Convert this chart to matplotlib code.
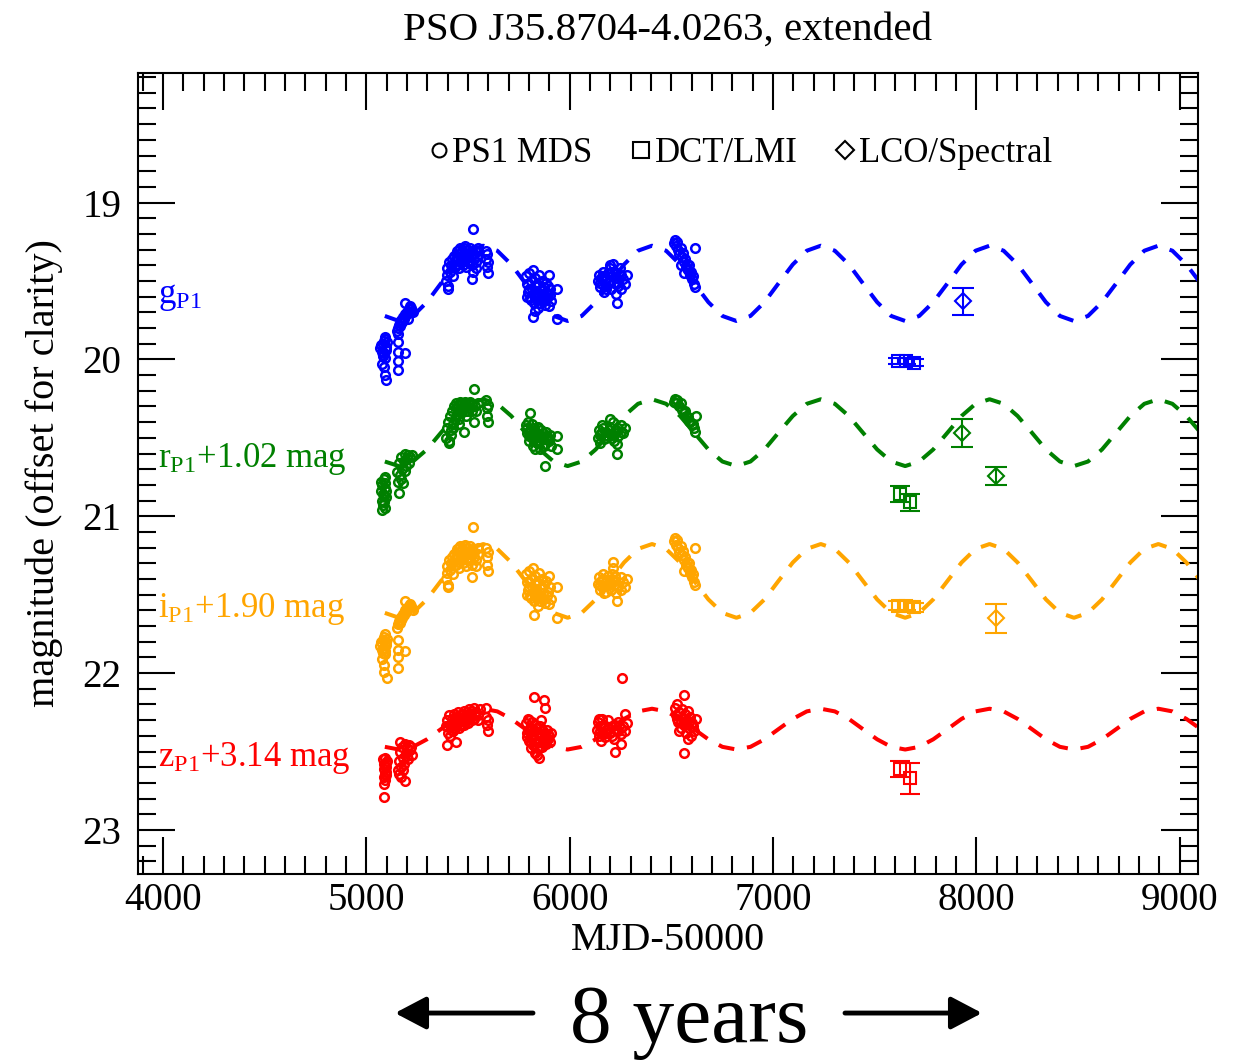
import matplotlib
matplotlib.use('Agg')
import matplotlib.pyplot as plt
from matplotlib.lines import Line2D
from matplotlib.patches import FancyArrowPatch
from matplotlib.ticker import MultipleLocator

plt.rcParams['font.family'] = ['Liberation Serif', 'DejaVu Serif']
plt.rcParams['mathtext.fontset'] = 'custom'
plt.rcParams['mathtext.rm'] = 'Liberation Serif'
plt.rcParams['mathtext.it'] = 'Liberation Serif:italic'

# ---- PS1 MDS photometry (MJD-50000, mag incl. offsets) ----
g_mjd = [5068, 5072, 5075, 5080, 5083, 5086, 5088, 5090, 5092, 5095, 5097, 5100, 5078, 5085, 5090, 5082, 5099, 5094,
         5150, 5155, 5160, 5165, 5170, 5175, 5180, 5185, 5190, 5195, 5200, 5205, 5210, 5215, 5220, 5228, 5158, 5172, 5192, 5158, 5158, 5192, 5158, 5158, 5205,
         5392, 5395, 5398, 5402, 5405, 5410, 5415, 5420, 5425, 5430, 5435, 5440, 5445, 5450, 5455, 5460, 5465, 5470, 5475, 5480, 5485, 5490,
         5495, 5500, 5505, 5510, 5515, 5520, 5524, 5519, 5530, 5535, 5540, 5545, 5550, 5525, 5588, 5590, 5592, 5595, 5597, 5600, 5402,
         5442, 5448, 5458, 5468, 5478, 5488, 5498, 5508, 5518, 5528, 5538, 5548, 5458, 5478,
         5785, 5790, 5795, 5800, 5805, 5810, 5815, 5820, 5825, 5830, 5835, 5840, 5845, 5850, 5855, 5860, 5865, 5870, 5875, 5880, 5885, 5890,
         5895, 5900, 5905, 5910, 5821, 5936, 5936, 5900, 5830,
         5792, 5802, 5812, 5822, 5832, 5842, 5852, 5862, 5872, 5882, 5892, 5902,
         6140, 6145, 6150, 6155, 6160, 6165, 6170, 6175, 6180, 6190, 6195, 6200, 6205, 6210, 6215, 6220, 6225, 6230, 6235, 6240, 6245, 6250,
         6260, 6270, 6280, 6231, 6200,
         6148, 6162, 6178, 6192, 6208, 6222, 6238, 6252,
         6515, 6520, 6525, 6530, 6535, 6540, 6545, 6550, 6555, 6560, 6565, 6570, 6575, 6580, 6585, 6590, 6595, 6600, 6605, 6610, 6615, 6615,
         6560, 6545]
g_mag = [19.93, 19.91, 19.95, 19.97, 19.90, 19.88, 19.96, 19.99, 19.86, 19.94, 19.92, 19.89, 20.03, 20.05, 20.10, 19.98, 20.13, 19.87,
         19.82, 19.80, 19.78, 19.79, 19.75, 19.76, 19.73, 19.74, 19.71, 19.72, 19.70, 19.69, 19.68, 19.66, 19.67, 19.70, 19.89, 19.77, 19.64, 19.95, 20.01, 19.96, 20.07, 19.84, 19.74,
         19.50, 19.46, 19.42, 19.53, 19.38, 19.44, 19.40, 19.36, 19.47, 19.34, 19.41, 19.37, 19.31, 19.39, 19.33, 19.29, 19.36, 19.31, 19.40, 19.33, 19.28, 19.35,
         19.30, 19.38, 19.32, 19.29, 19.34, 19.31, 19.17, 19.49, 19.36, 19.30, 19.42, 19.34, 19.29, 19.44, 19.31, 19.36, 19.41, 19.33, 19.45, 19.38, 19.55,
         19.40, 19.35, 19.42, 19.38, 19.36, 19.41, 19.34, 19.37, 19.40, 19.33, 19.38, 19.31, 19.30, 19.29,
         19.47, 19.52, 19.57, 19.45, 19.61, 19.50, 19.55, 19.43, 19.64, 19.48, 19.58, 19.52, 19.67, 19.46, 19.56, 19.62, 19.50, 19.59, 19.54, 19.65, 19.57, 19.61,
         19.53, 19.66, 19.59, 19.63, 19.73, 19.74, 19.55, 19.46, 19.69,
         19.60, 19.55, 19.62, 19.58, 19.53, 19.60, 19.64, 19.55, 19.63, 19.51, 19.58, 19.55,
         19.50, 19.46, 19.54, 19.48, 19.52, 19.44, 19.57, 19.49, 19.53, 19.45, 19.50, 19.42, 19.55, 19.47, 19.39, 19.51, 19.44, 19.58, 19.48, 19.53, 19.42, 19.55,
         19.49, 19.52, 19.46, 19.64, 19.40,
         19.51, 19.47, 19.55, 19.51, 19.44, 19.48, 19.51, 19.46,
         19.26, 19.24, 19.28, 19.25, 19.30, 19.33, 19.29, 19.35, 19.32, 19.38, 19.36, 19.41, 19.39, 19.43, 19.40, 19.46, 19.44, 19.49, 19.47, 19.52, 19.54, 19.29,
         19.45, 19.40]

r_mjd = [5070, 5073, 5076, 5079, 5082, 5085, 5088, 5090, 5092, 5094, 5096, 5098, 5085, 5080, 5090, 5075,
         5150, 5155, 5160, 5165, 5170, 5175, 5180, 5185, 5190, 5195, 5200, 5205, 5210, 5215, 5225, 5160, 5172, 5190,
         5392, 5396, 5400, 5405, 5410, 5415, 5420, 5425, 5430, 5435, 5440, 5445, 5450, 5455, 5460, 5465, 5470, 5475, 5480, 5485, 5490,
         5495, 5500, 5510, 5520, 5528, 5528, 5480, 5540, 5588, 5591, 5594, 5597, 5600, 5405,
         5442, 5448, 5458, 5468, 5478, 5488, 5498, 5508, 5518, 5532, 5548, 5458, 5428, 5418,
         5785, 5790, 5795, 5800, 5805, 5810, 5815, 5820, 5825, 5830, 5835, 5840, 5845, 5850, 5855, 5860, 5865, 5870, 5880, 5890, 5900,
         5910, 5805, 5880, 5830, 5936, 5936,
         5792, 5802, 5812, 5822, 5832, 5842, 5852, 5862, 5872, 5882, 5892, 5902,
         6140, 6145, 6150, 6155, 6160, 6170, 6180, 6190, 6200, 6210, 6215, 6220, 6230, 6240, 6250, 6260, 6270, 6232, 6232, 6200,
         6148, 6162, 6178, 6192, 6208, 6222, 6238, 6252,
         6515, 6520, 6525, 6530, 6540, 6545, 6550, 6560, 6565, 6570, 6580, 6585, 6590, 6600, 6605, 6610, 6615, 6620]
r_mag = [20.78, 20.84, 20.90, 20.80, 20.93, 20.76, 20.87, 20.82, 20.95, 20.79, 20.88, 20.84, 20.91, 20.86, 20.75, 20.96,
         20.72, 20.78, 20.66, 20.74, 20.62, 20.70, 20.79, 20.65, 20.60, 20.68, 20.63, 20.61, 20.66, 20.62, 20.61, 20.85, 20.76, 20.71,
         20.50, 20.44, 20.40, 20.52, 20.36, 20.45, 20.33, 20.41, 20.30, 20.38, 20.28, 20.35, 20.29, 20.32, 20.27, 20.34, 20.28, 20.31, 20.29, 20.27, 20.33,
         20.30, 20.28, 20.31, 20.29, 20.19, 20.40, 20.46, 20.33, 20.26, 20.31, 20.36, 20.40, 20.29, 20.53,
         20.36, 20.31, 20.38, 20.33, 20.30, 20.36, 20.33, 20.27, 20.33, 20.30, 20.28, 20.41, 20.44, 20.48,
         20.42, 20.47, 20.40, 20.52, 20.45, 20.49, 20.41, 20.55, 20.44, 20.50, 20.46, 20.53, 20.43, 20.48, 20.57, 20.45, 20.51, 20.47, 20.54, 20.49, 20.52,
         20.55, 20.34, 20.68, 20.57, 20.57, 20.49,
         20.44, 20.49, 20.45, 20.51, 20.47, 20.44, 20.52, 20.49, 20.55, 20.46, 20.51, 20.48,
         20.50, 20.45, 20.53, 20.47, 20.42, 20.51, 20.46, 20.49, 20.43, 20.48, 20.40, 20.52, 20.45, 20.49, 20.42, 20.47, 20.44, 20.60, 20.54, 20.38,
         20.48, 20.44, 20.50, 20.45, 20.50, 20.47, 20.44, 20.46,
         20.27, 20.25, 20.28, 20.26, 20.30, 20.28, 20.32, 20.34, 20.33, 20.36, 20.37, 20.39, 20.40, 20.42, 20.41, 20.44, 20.46, 20.36]

i_mjd = [5068, 5072, 5075, 5080, 5083, 5086, 5088, 5090, 5092, 5095, 5098, 5100, 5078, 5085, 5085, 5101, 5094,
         5150, 5155, 5160, 5165, 5170, 5175, 5180, 5185, 5190, 5195, 5200, 5205, 5210, 5215, 5222, 5230, 5192, 5158, 5158, 5192, 5158, 5158, 5172,
         5392, 5395, 5398, 5402, 5405, 5410, 5415, 5420, 5425, 5430, 5435, 5440, 5445, 5450, 5455, 5460, 5465, 5470, 5475, 5480, 5485, 5490,
         5495, 5500, 5505, 5510, 5515, 5520, 5524, 5519, 5530, 5540, 5550, 5588, 5591, 5594, 5597, 5600, 5402,
         5442, 5448, 5458, 5468, 5478, 5488, 5498, 5508, 5518, 5528, 5538, 5548, 5458, 5478,
         5785, 5790, 5795, 5800, 5805, 5810, 5815, 5820, 5825, 5830, 5835, 5840, 5845, 5850, 5855, 5860, 5865, 5870, 5875, 5880, 5890, 5900,
         5910, 5825, 5936, 5936, 5900,
         5792, 5802, 5812, 5822, 5832, 5842, 5852, 5862, 5872, 5882, 5892, 5902,
         6140, 6145, 6150, 6155, 6160, 6165, 6170, 6180, 6190, 6200, 6205, 6210, 6215, 6220, 6225, 6230, 6240, 6250, 6260, 6270, 6280, 6231,
         6215,
         6148, 6162, 6178, 6192, 6208, 6222, 6238, 6252,
         6515, 6520, 6525, 6530, 6535, 6540, 6545, 6550, 6555, 6560, 6565, 6570, 6575, 6580, 6585, 6590, 6595, 6600, 6605, 6610, 6615, 6615,
         6560]
i_mag = [21.83, 21.80, 21.85, 21.87, 21.79, 21.77, 21.84, 21.88, 21.75, 21.82, 21.80, 21.78, 21.91, 21.95, 21.99, 22.03, 21.86,
         21.71, 21.69, 21.67, 21.68, 21.64, 21.65, 21.62, 21.63, 21.60, 21.61, 21.59, 21.58, 21.57, 21.56, 21.57, 21.60, 21.54, 21.79, 21.85, 21.86, 21.90, 21.97, 21.66,
         21.40, 21.36, 21.32, 21.44, 21.28, 21.34, 21.30, 21.26, 21.37, 21.24, 21.31, 21.27, 21.21, 21.29, 21.23, 21.19, 21.26, 21.21, 21.30, 21.23, 21.18, 21.25,
         21.20, 21.28, 21.22, 21.19, 21.24, 21.21, 21.07, 21.39, 21.26, 21.32, 21.20, 21.20, 21.26, 21.31, 21.35, 21.23, 21.45,
         21.31, 21.25, 21.33, 21.28, 21.26, 21.32, 21.24, 21.27, 21.31, 21.23, 21.28, 21.24, 21.20, 21.19,
         21.37, 21.42, 21.47, 21.35, 21.51, 21.40, 21.45, 21.33, 21.54, 21.38, 21.48, 21.42, 21.57, 21.36, 21.46, 21.52, 21.40, 21.49, 21.44, 21.55, 21.51, 21.56,
         21.53, 21.63, 21.65, 21.45, 21.38,
         21.50, 21.45, 21.52, 21.48, 21.43, 21.50, 21.54, 21.45, 21.53, 21.41, 21.48, 21.45,
         21.43, 21.39, 21.47, 21.41, 21.45, 21.37, 21.49, 21.44, 21.38, 21.42, 21.47, 21.40, 21.33, 21.44, 21.38, 21.49, 21.45, 21.47, 21.42, 21.45, 21.40, 21.54,
         21.29,
         21.44, 21.40, 21.48, 21.44, 21.37, 21.41, 21.44, 21.39,
         21.16, 21.14, 21.18, 21.15, 21.20, 21.23, 21.19, 21.25, 21.22, 21.28, 21.26, 21.31, 21.29, 21.33, 21.30, 21.36, 21.34, 21.39, 21.37, 21.42, 21.44, 21.20,
         21.35]

z_mjd = [5082, 5085, 5088, 5090, 5092, 5095, 5098, 5085, 5090, 5095, 5100, 5088, 5087, 5093, 5098,
         5155, 5160, 5165, 5170, 5175, 5180, 5185, 5190, 5195, 5200, 5205, 5210, 5215, 5220, 5225, 5160, 5170, 5192, 5180, 5165, 5200,
         5392, 5396, 5400, 5405, 5410, 5415, 5420, 5425, 5430, 5435, 5440, 5445, 5450, 5455, 5460, 5465, 5470, 5475, 5480, 5485, 5490,
         5495, 5500, 5505, 5510, 5515, 5520, 5530, 5540, 5550, 5560, 5528, 5588, 5590, 5593, 5596, 5600, 5398, 5442, 5410,
         5442, 5448, 5458, 5468, 5478, 5488, 5498, 5508, 5518, 5532, 5548, 5418, 5428,
         5785, 5790, 5795, 5800, 5805, 5810, 5815, 5820, 5825, 5830, 5835, 5840, 5845, 5850, 5855, 5860, 5865, 5870, 5875, 5880, 5885, 5890,
         5895, 5900, 5910, 5826, 5872, 5880, 5830, 5850, 5840, 5800, 5860,
         5792, 5802, 5812, 5822, 5832, 5842, 5852, 5862, 5872, 5882, 5892, 5902, 5812, 5852,
         6135, 6140, 6145, 6150, 6155, 6160, 6165, 6170, 6175, 6180, 6190, 6200, 6210, 6220, 6230, 6240, 6250, 6260, 6270, 6280, 6225, 6145,
         6270, 6250, 6255,
         6148, 6162, 6178, 6192, 6208, 6222, 6238, 6252,
         6520, 6525, 6530, 6535, 6540, 6545, 6550, 6555, 6560, 6565, 6570, 6575, 6580, 6585, 6590, 6595, 6600, 6610, 6620, 6560, 6560, 6580,
         6528, 6548, 6568, 6588, 6608, 6538]
z_mag = [22.55, 22.58, 22.61, 22.54, 22.64, 22.57, 22.60, 22.66, 22.68, 22.63, 22.56, 22.71, 22.79, 22.59, 22.65,
         22.62, 22.56, 22.50, 22.60, 22.47, 22.54, 22.58, 22.45, 22.51, 22.48, 22.55, 22.46, 22.49, 22.47, 22.52, 22.64, 22.66, 22.69, 22.62, 22.44, 22.53,
         22.34, 22.30, 22.38, 22.27, 22.33, 22.36, 22.29, 22.31, 22.26, 22.35, 22.28, 22.32, 22.25, 22.30, 22.27, 22.33, 22.26, 22.29, 22.24, 22.31, 22.27,
         22.25, 22.30, 22.23, 22.28, 22.26, 22.24, 22.29, 22.25, 22.27, 22.23, 22.22, 22.22, 22.28, 22.33, 22.37, 22.30, 22.46, 22.44, 22.40,
         22.34, 22.29, 22.35, 22.30, 22.33, 22.28, 22.32, 22.26, 22.30, 22.27, 22.30, 22.33, 22.37,
         22.32, 22.38, 22.29, 22.43, 22.35, 22.40, 22.31, 22.46, 22.36, 22.42, 22.33, 22.48, 22.38, 22.44, 22.34, 22.41, 22.47, 22.37, 22.43, 22.39, 22.45, 22.36,
         22.42, 22.40, 22.38, 22.15, 22.17, 22.22, 22.51, 22.54, 22.52, 22.30, 22.30,
         22.41, 22.37, 22.44, 22.39, 22.35, 22.43, 22.40, 22.36, 22.44, 22.41, 22.39, 22.44, 22.48, 22.47,
         22.36, 22.31, 22.40, 22.34, 22.43, 22.29, 22.38, 22.33, 22.41, 22.36, 22.30, 22.38, 22.34, 22.42, 22.36, 22.31, 22.39, 22.34, 22.37, 22.32, 22.50, 22.29,
         22.26, 22.45, 22.03,
         22.37, 22.34, 22.38, 22.35, 22.40, 22.33, 22.37, 22.35,
         22.22, 22.27, 22.20, 22.31, 22.25, 22.35, 22.23, 22.29, 22.33, 22.26, 22.38, 22.30, 22.24, 22.35, 22.28, 22.40, 22.32, 22.37, 22.29, 22.14, 22.51, 22.42,
         22.29, 22.31, 22.32, 22.31, 22.34, 22.37]

# ---- DCT/LMI (squares) and LCO/Spectral (diamonds) ----
dct_g_mjd = [7615, 7655, 7695]
dct_g_mag = [20.01, 20.01, 20.02]
dct_g_err = [0.02, 0.02, 0.02]
dct_r_mjd = [7625, 7672]
dct_r_mag = [20.86, 20.91]
dct_r_err = [0.05, 0.055]
dct_i_mjd = [7615, 7655, 7695]
dct_i_mag = [21.57, 21.57, 21.58]
dct_i_err = [0.03, 0.03, 0.03]
dct_z_mjd = [7625, 7675]
dct_z_mag = [22.61, 22.67]
dct_z_err = [0.05, 0.10]

lco_g_mjd = [7935]
lco_g_mag = [19.63]
lco_g_err = [0.085]
lco_r_mjd = [7930, 8095]
lco_r_mag = [20.47, 20.745]
lco_r_err = [0.09, 0.058]
lco_i_mjd = [8095]
lco_i_mag = [21.65]
lco_i_err = [0.093]

# ---- sinusoid fit ----
fit_mjd = [5091, 5160, 5229, 5298, 5367, 5437, 5506, 5575, 5644, 5713, 5782, 5852,
           5921, 5990, 6059, 6128, 6197, 6267, 6336, 6405, 6474, 6543, 6612, 6682,
           6751, 6820, 6889, 6958, 7027, 7097, 7166, 7235, 7304, 7373, 7442, 7512,
           7581, 7650, 7719, 7788, 7858, 7927, 7996, 8065, 8134, 8203, 8273, 8342,
           8411, 8480, 8549, 8618, 8688, 8757, 8826, 8895, 8964, 9033, 9103]
fit_g = [19.723, 19.755, 19.723, 19.635, 19.515, 19.395, 19.307, 19.275, 19.307, 19.395, 19.515, 19.635,
         19.723, 19.755, 19.723, 19.635, 19.515, 19.395, 19.307, 19.275, 19.307, 19.395, 19.515, 19.635,
         19.723, 19.755, 19.723, 19.635, 19.515, 19.395, 19.307, 19.275, 19.307, 19.395, 19.515, 19.635,
         19.723, 19.755, 19.723, 19.635, 19.515, 19.395, 19.307, 19.275, 19.307, 19.395, 19.515, 19.635,
         19.723, 19.755, 19.723, 19.635, 19.515, 19.395, 19.307, 19.275, 19.307, 19.395, 19.515]
fit_r = [20.651, 20.680, 20.651, 20.574, 20.467, 20.361, 20.283, 20.254, 20.283, 20.361, 20.467, 20.574,
         20.651, 20.680, 20.651, 20.574, 20.467, 20.361, 20.283, 20.254, 20.283, 20.361, 20.467, 20.574,
         20.651, 20.680, 20.651, 20.574, 20.467, 20.361, 20.283, 20.254, 20.283, 20.361, 20.467, 20.574,
         20.651, 20.680, 20.651, 20.574, 20.467, 20.361, 20.283, 20.254, 20.283, 20.361, 20.467, 20.574,
         20.651, 20.680, 20.651, 20.574, 20.467, 20.361, 20.283, 20.254, 20.283, 20.361, 20.467]
fit_i = [21.616, 21.647, 21.616, 21.530, 21.412, 21.295, 21.208, 21.177, 21.208, 21.295, 21.412, 21.530,
         21.616, 21.647, 21.616, 21.530, 21.412, 21.295, 21.208, 21.177, 21.208, 21.295, 21.412, 21.530,
         21.616, 21.647, 21.616, 21.530, 21.412, 21.295, 21.208, 21.177, 21.208, 21.295, 21.412, 21.530,
         21.616, 21.647, 21.616, 21.530, 21.412, 21.295, 21.208, 21.177, 21.208, 21.295, 21.412, 21.530,
         21.616, 21.647, 21.616, 21.530, 21.412, 21.295, 21.208, 21.177, 21.208, 21.295, 21.412]
fit_z = [22.470, 22.487, 22.470, 22.422, 22.357, 22.292, 22.244, 22.227, 22.244, 22.292, 22.357, 22.422,
         22.470, 22.487, 22.470, 22.422, 22.357, 22.292, 22.244, 22.227, 22.244, 22.292, 22.357, 22.422,
         22.470, 22.487, 22.470, 22.422, 22.357, 22.292, 22.244, 22.227, 22.244, 22.292, 22.357, 22.422,
         22.470, 22.487, 22.470, 22.422, 22.357, 22.292, 22.244, 22.227, 22.244, 22.292, 22.357, 22.422,
         22.470, 22.487, 22.470, 22.422, 22.357, 22.292, 22.244, 22.227, 22.244, 22.292, 22.357]

band_labels = [r'g$_{\mathrm{P1}}$', r'r$_{\mathrm{P1}}$+1.02 mag',
               r'i$_{\mathrm{P1}}$+1.90 mag', r'z$_{\mathrm{P1}}$+3.14 mag']
band_label_mag = [19.64, 20.687, 21.645, 22.59]
colors = ['#0000ff', '#008000', '#ffa500', '#ff0000']

fig = plt.figure(figsize=(12.5, 10.61), dpi=100)
ax = fig.add_axes([0.1104, 0.1762, 0.848, 0.755])

fits = [fit_g, fit_r, fit_i, fit_z]
ps1 = [(g_mjd, g_mag), (r_mjd, r_mag), (i_mjd, i_mag), (z_mjd, z_mag)]
dct = [(dct_g_mjd, dct_g_mag, dct_g_err), (dct_r_mjd, dct_r_mag, dct_r_err),
       (dct_i_mjd, dct_i_mag, dct_i_err), (dct_z_mjd, dct_z_mag, dct_z_err)]
lco = [(lco_g_mjd, lco_g_mag, lco_g_err), (lco_r_mjd, lco_r_mag, lco_r_err),
       (lco_i_mjd, lco_i_mag, lco_i_err), None]

for k, c in enumerate(colors):
    ax.plot(fit_mjd, fits[k], color=c, lw=2.9, dashes=(4, 3.2), zorder=2)
    ax.plot(ps1[k][0], ps1[k][1], 'o', mfc='none', mec=c, ms=6.2, mew=1.8, zorder=3)
    ax.errorbar(dct[k][0], dct[k][1], yerr=dct[k][2], fmt='s', mfc='none', mec=c,
                ecolor=c, ms=9, mew=1.5, elinewidth=1.5, capsize=7, capthick=1.5, zorder=3)
    if lco[k] is not None:
        ax.errorbar(lco[k][0], lco[k][1], yerr=lco[k][2], fmt='D', mfc='none', mec=c,
                    ecolor=c, ms=8, mew=1.5, elinewidth=1.5, capsize=8, capthick=1.5, zorder=3)
    ax.text(3975, band_label_mag[k], band_labels[k], color=c, fontsize=25, va='baseline', ha='left')

ax.set_xlim(3877, 9090)
ax.set_ylim(23.281, 18.174)
ax.xaxis.set_major_locator(MultipleLocator(1000))
ax.xaxis.set_minor_locator(MultipleLocator(100))
ax.yaxis.set_major_locator(MultipleLocator(1))
ax.yaxis.set_minor_locator(MultipleLocator(0.1))
ax.tick_params(which='both', direction='in', top=True, right=True, width=1.5, labelsize=28)
ax.tick_params(which='major', length=26.5)
ax.tick_params(which='minor', length=13)
ax.tick_params(axis='x', pad=6)
ax.tick_params(axis='y', pad=12)
for s in ax.spines.values():
    s.set_linewidth(1.5)

ax.set_xlabel('MJD-50000', fontsize=29, labelpad=2)
ax.set_ylabel('magnitude (offset for clarity)', fontsize=29, labelpad=14)
ax.set_title('PSO J35.8704-4.0263, extended', fontsize=29.5, pad=24)

handles = [Line2D([], [], marker='o', ls='none', mfc='none', mec='k', ms=10, mew=1.5),
           Line2D([], [], marker='s', ls='none', mfc='none', mec='k', ms=11, mew=1.5),
           Line2D([], [], marker='D', ls='none', mfc='none', mec='k', ms=9, mew=1.5)]
ax.legend(handles, ['PS1 MDS', 'DCT/LMI', 'LCO/Spectral'], loc='center', bbox_to_anchor=(0.569, 0.899),
          ncol=3, frameon=False, fontsize=25, handlelength=0.5, handletextpad=0.15, columnspacing=1.13)

fig.text(0.551, 0.0179, '8 years', fontsize=60, ha='center', va='baseline')
arrow = dict(arrowstyle='-|>,head_length=0.95,head_width=0.5', lw=3.5, color='k', mutation_scale=20,
             shrinkA=0, shrinkB=0)
fig.add_artist(FancyArrowPatch((0.4264, 0.0452), (0.316, 0.0452), transform=fig.transFigure, **arrow))
fig.add_artist(FancyArrowPatch((0.676, 0.0452), (0.7856, 0.0452), transform=fig.transFigure, **arrow))

fig.savefig('out.png', dpi=100)
